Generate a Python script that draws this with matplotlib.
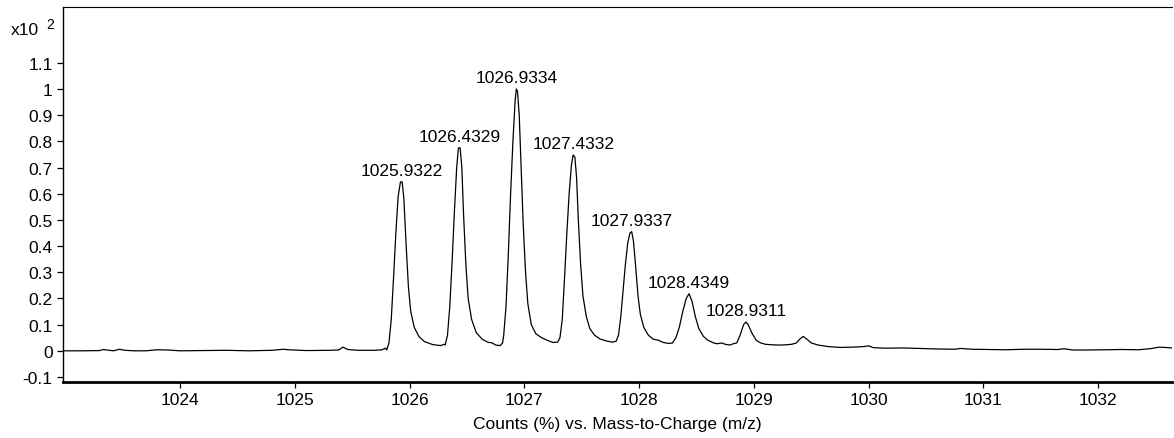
import numpy as np
import matplotlib
matplotlib.use("Agg")
from matplotlib import pyplot as plt

plt.rcParams['font.family'] = ['Liberation Sans', 'DejaVu Sans']

# profile trace, intensity in units of 10^2 counts (%)
mz = [
    1022.98, 1023.15, 1023.30, 1023.33, 1023.38, 1023.42, 1023.47, 1023.52, 1023.60, 1023.70,
    1023.80, 1023.90, 1024.00, 1024.20, 1024.40, 1024.60, 1024.80, 1024.90, 1024.95, 1025.10,
    1025.30, 1025.38, 1025.42, 1025.46, 1025.55, 1025.70, 1025.76, 1025.79,
    # 1025.93
    1025.80, 1025.82, 1025.84, 1025.86, 1025.88, 1025.90, 1025.92, 1025.935, 1025.95, 1025.97,
    1025.99, 1026.01, 1026.04, 1026.08, 1026.13, 1026.20, 1026.27, 1026.30, 1026.31,
    # 1026.43
    1026.33, 1026.35, 1026.37, 1026.39, 1026.41, 1026.425, 1026.44, 1026.455, 1026.47, 1026.49,
    1026.51, 1026.54, 1026.58, 1026.63, 1026.68, 1026.72, 1026.75, 1026.79, 1026.81,
    # 1026.93
    1026.82, 1026.84, 1026.86, 1026.88, 1026.90, 1026.92, 1026.93, 1026.94, 1026.955, 1026.97,
    1026.99, 1027.01, 1027.03, 1027.06, 1027.10, 1027.15, 1027.20, 1027.25, 1027.29, 1027.31,
    # 1027.43
    1027.33, 1027.35, 1027.37, 1027.39, 1027.41, 1027.425, 1027.44, 1027.455, 1027.47, 1027.49,
    1027.51, 1027.54, 1027.57, 1027.61, 1027.66, 1027.72, 1027.77, 1027.80, 1027.82,
    # 1027.93
    1027.84, 1027.86, 1027.88, 1027.90, 1027.92, 1027.935, 1027.95, 1027.97, 1027.99, 1028.01,
    1028.04, 1028.08, 1028.12, 1028.17, 1028.21, 1028.26, 1028.29, 1028.32,
    # 1028.43
    1028.35, 1028.38, 1028.41, 1028.435, 1028.46, 1028.49, 1028.52, 1028.56, 1028.60, 1028.65,
    1028.68, 1028.72, 1028.75, 1028.79, 1028.82, 1028.85,
    # 1028.93
    1028.88, 1028.91, 1028.93, 1028.95, 1028.98, 1029.02, 1029.06, 1029.10, 1029.16, 1029.22,
    1029.28, 1029.33, 1029.37,
    # 1029.43 and the flat tail
    1029.40, 1029.43, 1029.46, 1029.50, 1029.56, 1029.65, 1029.75, 1029.85, 1029.95, 1030.00,
    1030.04, 1030.15, 1030.30, 1030.45, 1030.60, 1030.75, 1030.80, 1030.90, 1031.05, 1031.20,
    1031.35, 1031.50, 1031.65, 1031.70, 1031.78, 1031.90, 1032.05, 1032.20, 1032.35, 1032.45,
    1032.53, 1032.58, 1032.64,
]
counts = [
    0.000, 0.000, 0.001, 0.005, 0.002, 0.000, 0.006, 0.002, 0.000, 0.000,
    0.004, 0.003, 0.000, 0.001, 0.002, 0.000, 0.002, 0.006, 0.004, 0.001,
    0.002, 0.003, 0.014, 0.005, 0.002, 0.002, 0.004, 0.010,
    0.003, 0.030, 0.120, 0.280, 0.450, 0.590, 0.645, 0.645, 0.580, 0.400,
    0.240, 0.150, 0.090, 0.055, 0.035, 0.024, 0.020, 0.025, 0.022,
    0.060, 0.170, 0.340, 0.530, 0.700, 0.775, 0.775, 0.700, 0.520, 0.330,
    0.200, 0.120, 0.070, 0.045, 0.033, 0.030, 0.022, 0.020, 0.030,
    0.060, 0.170, 0.370, 0.600, 0.800, 0.960, 1.000, 0.990, 0.900, 0.720,
    0.480, 0.300, 0.180, 0.100, 0.065, 0.050, 0.040, 0.032, 0.033, 0.050,
    0.120, 0.280, 0.450, 0.600, 0.710, 0.748, 0.740, 0.660, 0.500, 0.330,
    0.210, 0.130, 0.085, 0.060, 0.045, 0.037, 0.033, 0.037, 0.060,
    0.130, 0.230, 0.330, 0.410, 0.450, 0.455, 0.420, 0.320, 0.210, 0.140,
    0.090, 0.060, 0.045, 0.040, 0.032, 0.028, 0.030, 0.050,
    0.090, 0.150, 0.200, 0.218, 0.190, 0.130, 0.085, 0.055, 0.040, 0.030,
    0.027, 0.030, 0.025, 0.022, 0.027, 0.030,
    0.060, 0.100, 0.110, 0.100, 0.070, 0.040, 0.030, 0.025, 0.023, 0.022,
    0.023, 0.025, 0.030,
    0.045, 0.055, 0.045, 0.030, 0.022, 0.016, 0.013, 0.014, 0.016, 0.019,
    0.012, 0.010, 0.011, 0.009, 0.007, 0.006, 0.009, 0.006, 0.005, 0.004,
    0.006, 0.006, 0.005, 0.008, 0.003, 0.003, 0.004, 0.005, 0.004, 0.008,
    0.014, 0.013, 0.011,
]

# labelled centroids
peak_mz = [1025.9322, 1026.4329, 1026.9334, 1027.4332, 1027.9337, 1028.4349, 1028.9311]
peak_counts = [0.645, 0.775, 1.000, 0.748, 0.455, 0.218, 0.110]

xticks = [1024, 1025, 1026, 1027, 1028, 1029, 1030, 1031, 1032]
yticks = [-0.1, 0, 0.1, 0.2, 0.3, 0.4, 0.5, 0.6, 0.7, 0.8, 0.9, 1, 1.1]

fig = plt.figure(figsize=(11.74, 4.39), dpi=100)
ax = fig.add_axes([0.0537, 0.1276, 0.9443, 0.8542])

ax.plot(mz, counts, color='black', lw=0.9)

for x, y in zip(peak_mz, peak_counts):
    ax.annotate('%.4f' % x, (x, y), xytext=(0, 5), textcoords='offset points',
                ha='center', va='baseline', fontsize=12.5)

ax.set_xlim(1022.98, 1032.64)
ax.set_ylim(-0.119, 1.313)
ax.set_xticks(xticks)
ax.set_xticklabels([str(t) for t in xticks])
ax.set_yticks(yticks)
ax.set_yticklabels(['%g' % t for t in yticks])
ax.tick_params(direction='out', length=4.5, width=0.9, labelsize=12.5, pad=3)

ax.spines['right'].set_visible(False)
ax.spines['bottom'].set_linewidth(2.0)
ax.spines['left'].set_linewidth(1.0)
ax.spines['top'].set_linewidth(0.8)

ax.set_xlabel('Counts (%) vs. Mass-to-Charge (m/z)', fontsize=12.5, labelpad=6)

fig.text(0.0095, 0.921, 'x10', fontsize=12.5, va='baseline')
fig.text(0.0395, 0.935, '2', fontsize=10, va='baseline')

fig.savefig('out.png', dpi=100)
